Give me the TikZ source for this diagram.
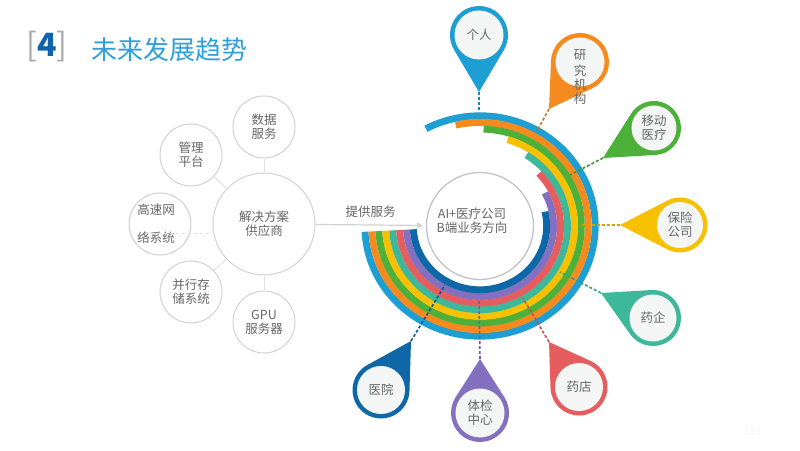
\documentclass[tikz,border=0pt]{standalone}
\usepackage{fontspec}
\setmainfont{Noto Sans CJK SC}
\usetikzlibrary{calc,arrows.meta}
\definecolor{ringA}{HTML}{1E9FD4}
\definecolor{ringB}{HTML}{F58B1F}
\definecolor{ringC}{HTML}{4DB03A}
\definecolor{ringD}{HTML}{F7C000}
\definecolor{ringE}{HTML}{3EB89A}
\definecolor{ringF}{HTML}{E55D5F}
\definecolor{ringG}{HTML}{8470C0}
\definecolor{ringH}{HTML}{0E68A8}
\definecolor{txt}{HTML}{666666}
\definecolor{bubble}{HTML}{D2D2D2}
\definecolor{coregray}{HTML}{C2C2C8}
\definecolor{spokegray}{HTML}{E2E2E2}
\definecolor{pinbg}{HTML}{F4F6F6}
\definecolor{titleblue}{HTML}{2EA0DA}
\definecolor{numblue}{HTML}{0F62AE}
\definecolor{brk}{HTML}{A8A8A8}
\definecolor{pagenum}{HTML}{F6F6F6}
\begin{document}
\begin{tikzpicture}[x=1pt,y=1pt,line join=round,
  font=\fontsize{12.5}{13.8}\selectfont,
  sat/.style={circle,draw=bubble,line width=1pt,fill=white,inner sep=0pt,minimum size=62pt,text=txt,align=center},
  hub/.style={sat,minimum size=102pt},
  spoke/.style={draw=spokegray,line width=1pt},
  feed/.style={draw=bubble,line width=1.2pt,-{Triangle[width=6pt,length=6pt]},shorten >=3pt},
  core/.style={circle,draw=coregray,line width=1.3pt,inner sep=0pt,minimum size=107pt},
  pinface/.style={circle,fill=pinbg,inner sep=0pt},
  pintext/.style={text=txt,align=center,inner sep=0pt},
  link/.style={line width=1.6pt,dash pattern=on 3pt off 2pt}]
\fill[white] (0,0) rectangle (800,450);
\useasboundingbox (0,0) rectangle (800,450);
\def\cx{480}
\def\cy{224}
% title
\node[anchor=west,font=\fontsize{32}{32}\selectfont] (num) at (23,403) {{\color{brk}[}{\color{numblue}\bfseries 4}{\color{brk}]}};
\node[anchor=west,text=titleblue,font=\fontsize{26}{26}\selectfont] (title) at (88,400) {未来发展趋势};
% rings
\begin{scope}[shift={(\cx,\cy)},xscale=1.045]
\foreach \col/\e [count=\i from 0] in {ringA/118,ringB/103,ringC/88,ringD/73,ringE/58,ringF/43,ringG/28,ringH/13}
  \draw[\col,line width=6.9pt] (183:{110.2-6.625*\i}) arc[start angle=183,end angle=360+\e,radius={110.2-6.625*\i}];
\end{scope}
\node[core] (core) at (\cx,\cy) {};
\node[pintext] (core-t) at (472,229) {AI+医疗公司\\B端业务方向};
% pins
\foreach \nm/\col/\ox/\oy/\rr/\tx/\ty/\ex/\ey/\dy/\txt in {
  person/ringA/479/415/29/479/358/479/338/0/{个人},
  lab/ringB/580/388/29/549/341/537/319/-15/{研\\[3pt]究\\机\\构},
  mobile/ringC/654/322/27/603/292/570/275/0/{移动\\医疗},
  insur/ringD/680/225/27.5/620/225/580/225/0/{保险\\公司},
  pharma/ringE/653/132/28/601/157/560/178/0/{药企},
  shop/ringF/579/63/28.5/549/108/523/152/0/{药店},
  check/ringG/480/37/29/480/91/479/150/0/{体检\\中心},
  hosp/ringH/381/60/28.5/411/109/445/165/0/{医院}}{
  \coordinate (\nm-tip) at (\tx,\ty);
  \coordinate (\nm-end) at (\ex,\ey);
  \draw[link,draw=\col!85!black] (\nm-tip) -- (\nm-end);
  \fill[\col] let \p1=($(\nm-tip)-(\ox,\oy)$), \n1={atan2(\y1,\x1)}, \n2={acos(\rr/veclen(\x1,\y1))} in
    (\nm-tip) -- ($(\ox,\oy)+(\n1+\n2:\rr)$) arc[start angle=\n1+\n2,delta angle=360-2*\n2,radius=\rr] -- cycle;
  \node[pinface,minimum size={2*\rr-9}] (\nm) at (\ox,\oy) {};
  \node[pintext] (\nm-t) at ([yshift=\dy]\nm.center) {\txt};
}
% supplier side
\node[hub] (sol) at (264,226) {解决方案\\供应商};
\node[sat] (data) at (264,323) {数据\\服务};
\node[sat] (mgmt) at (191,295) {管理\\平台};
\node[sat] (net) at (160,226) {};
\node[pintext] (net-t) at (156,226) {高速网\\[14pt]络系统};
\node[sat] (disk) at (191,158) {并行存\\储系统};
\node[sat] (gpu) at (264,128) {GPU\\服务器};
\foreach \s in {data,mgmt,disk,gpu} \draw[spoke] (sol) -- (\s);
\draw[spoke,dashed] ([xshift=-20pt,yshift=-10pt]net.center) -- ([xshift=4pt,yshift=-10pt]sol.west);
\draw[feed] (sol) -- (core) node[midway,above=4pt,text=txt] (feed-t) {提供服务};
\node[text=pagenum,font=\fontsize{11}{11}\selectfont] (page) at (753,18) {121};
\end{tikzpicture}
\end{document}
